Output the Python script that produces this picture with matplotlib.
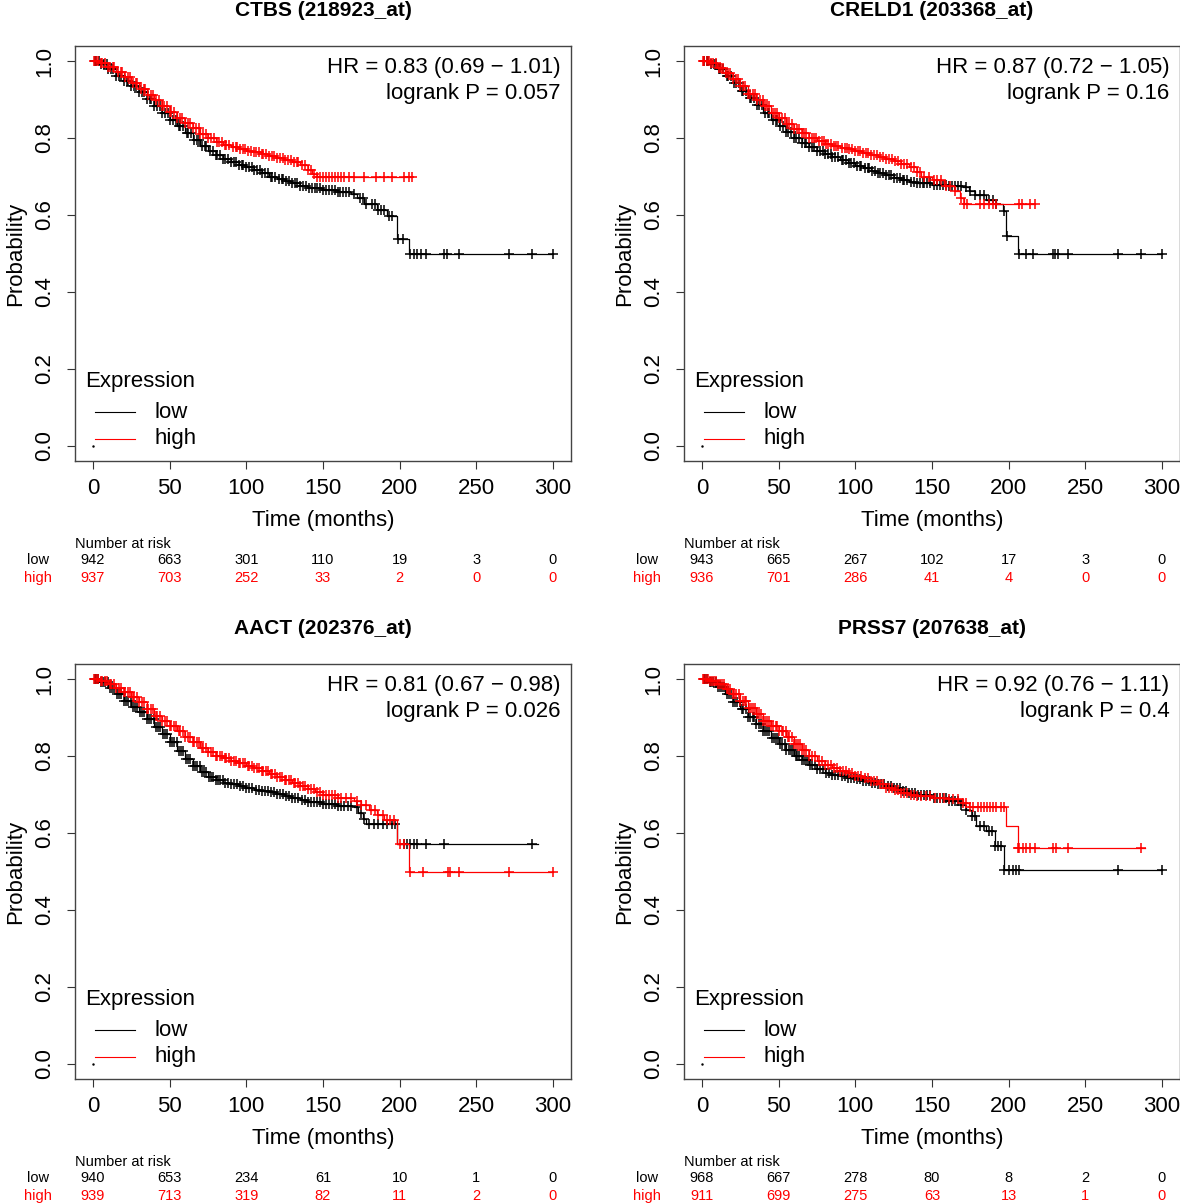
import numpy as np
import matplotlib
matplotlib.use("Agg")
import matplotlib.pyplot as plt
from matplotlib.transforms import blended_transform_factory

plt.rcParams['font.family'] = ['Liberation Sans', 'DejaVu Sans']

# ---- data ----
titles = ["CTBS (218923_at)", "CRELD1 (203368_at)", "AACT (202376_at)", "PRSS7 (207638_at)"]
hr_text = ["HR = 0.83 (0.69 \u2212 1.01)", "HR = 0.87 (0.72 \u2212 1.05)",
           "HR = 0.81 (0.67 \u2212 0.98)", "HR = 0.92 (0.76 \u2212 1.11)"]
p_text = ["logrank P = 0.057", "logrank P = 0.16", "logrank P = 0.026", "logrank P = 0.4"]

risk_times = [0, 50, 100, 150, 200, 250, 300]
ctbs_risk_low = [942, 663, 301, 110, 19, 3, 0]
ctbs_risk_high = [937, 703, 252, 33, 2, 0, 0]
creld1_risk_low = [943, 665, 267, 102, 17, 3, 0]
creld1_risk_high = [936, 701, 286, 41, 4, 0, 0]
aact_risk_low = [940, 653, 234, 61, 10, 1, 0]
aact_risk_high = [939, 713, 319, 82, 11, 2, 0]
prss7_risk_low = [968, 667, 278, 80, 8, 2, 0]
prss7_risk_high = [911, 699, 275, 63, 13, 1, 0]

# survival curves (time in months, probability), step knots
ctbs_low_t = [0, 5, 10, 15, 20, 25, 30, 35, 40, 45, 50, 55, 60, 65, 70, 75, 80, 85, 90, 95, 100,
              105, 110, 115, 120, 125, 130, 135, 140, 150, 160, 168, 172, 177, 185, 192, 198, 206, 300]
ctbs_low_s = [1.0, 0.993, 0.978, 0.962, 0.948, 0.934, 0.92, 0.902, 0.884, 0.865, 0.848, 0.83, 0.812,
              0.795, 0.778, 0.765, 0.755, 0.746, 0.738, 0.731, 0.724, 0.716, 0.708, 0.70, 0.694, 0.688,
              0.682, 0.676, 0.671, 0.666, 0.661, 0.655, 0.645, 0.628, 0.613, 0.598, 0.537, 0.498, 0.498]
ctbs_high_t = [0, 5, 10, 15, 20, 25, 30, 35, 40, 45, 50, 55, 60, 65, 70, 75, 80, 85, 90, 95, 100,
               105, 110, 115, 120, 125, 130, 135, 140, 143, 146, 208]
ctbs_high_s = [1.0, 0.995, 0.985, 0.972, 0.958, 0.943, 0.928, 0.912, 0.898, 0.883, 0.868, 0.853, 0.839,
               0.825, 0.811, 0.80, 0.79, 0.782, 0.776, 0.771, 0.767, 0.763, 0.758, 0.754, 0.749, 0.743,
               0.737, 0.731, 0.718, 0.707, 0.698, 0.698]

creld1_low_t = [0, 5, 10, 15, 20, 25, 30, 35, 40, 45, 50, 55, 60, 65, 70, 75, 80, 85, 90, 95, 100,
                105, 110, 115, 120, 125, 130, 135, 140, 150, 160, 170, 174, 178, 185, 192, 196, 198, 206, 300]
creld1_low_s = [1.0, 0.992, 0.978, 0.96, 0.942, 0.923, 0.905, 0.886, 0.866, 0.846, 0.83, 0.815, 0.801,
                0.788, 0.776, 0.767, 0.758, 0.75, 0.742, 0.734, 0.727, 0.721, 0.715, 0.708, 0.703, 0.697,
                0.692, 0.687, 0.684, 0.679, 0.675, 0.672, 0.662, 0.652, 0.64, 0.628, 0.611, 0.546, 0.498, 0.498]
creld1_high_t = [0, 5, 10, 15, 20, 25, 30, 35, 40, 45, 50, 55, 60, 65, 70, 75, 80, 85, 90, 95, 100,
                 105, 110, 115, 120, 125, 130, 135, 140, 143, 150, 158, 165, 168, 171, 217]
creld1_high_s = [1.0, 0.994, 0.983, 0.968, 0.952, 0.935, 0.915, 0.898, 0.882, 0.866, 0.851, 0.837, 0.824,
                 0.812, 0.801, 0.792, 0.785, 0.779, 0.774, 0.771, 0.767, 0.762, 0.757, 0.751, 0.745, 0.739,
                 0.732, 0.725, 0.712, 0.70, 0.69, 0.675, 0.662, 0.645, 0.628, 0.628]

aact_low_t = [0, 5, 10, 15, 20, 25, 30, 35, 40, 45, 50, 55, 60, 65, 70, 75, 80, 85, 90, 95, 100,
              105, 110, 115, 120, 125, 130, 135, 140, 150, 160, 170, 173, 176, 178, 198, 290]
aact_low_s = [1.0, 0.991, 0.977, 0.96, 0.943, 0.928, 0.913, 0.895, 0.876, 0.857, 0.836, 0.814, 0.792,
              0.773, 0.758, 0.746, 0.737, 0.731, 0.726, 0.721, 0.716, 0.712, 0.709, 0.706, 0.701, 0.696,
              0.69, 0.685, 0.681, 0.675, 0.671, 0.667, 0.652, 0.636, 0.623, 0.571, 0.571]
aact_high_t = [0, 5, 10, 15, 20, 25, 30, 35, 40, 45, 50, 55, 60, 65, 70, 75, 80, 85, 90, 95, 100,
               105, 110, 115, 120, 125, 130, 135, 140, 145, 150, 160, 170, 175, 180, 185, 190, 198, 206, 300]
aact_high_s = [1.0, 0.995, 0.987, 0.977, 0.965, 0.953, 0.94, 0.921, 0.905, 0.89, 0.877, 0.864, 0.85,
               0.836, 0.822, 0.81, 0.801, 0.794, 0.788, 0.782, 0.775, 0.768, 0.761, 0.754, 0.746, 0.738,
               0.73, 0.722, 0.714, 0.707, 0.70, 0.692, 0.682, 0.672, 0.66, 0.648, 0.635, 0.571, 0.50, 0.50]

prss7_low_t = [0, 5, 10, 15, 20, 25, 30, 35, 40, 45, 50, 55, 60, 65, 70, 75, 80, 85, 90, 95, 100,
               105, 110, 115, 120, 125, 130, 135, 140, 150, 160, 168, 172, 176, 179, 185, 191, 197, 300]
prss7_low_s = [1.0, 0.993, 0.978, 0.96, 0.941, 0.921, 0.901, 0.882, 0.864, 0.846, 0.83, 0.815, 0.801,
               0.789, 0.776, 0.765, 0.757, 0.751, 0.747, 0.743, 0.739, 0.735, 0.731, 0.728, 0.722, 0.716,
               0.71, 0.704, 0.698, 0.69, 0.683, 0.674, 0.66, 0.645, 0.619, 0.606, 0.567, 0.503, 0.503]
prss7_high_t = [0, 5, 10, 15, 20, 25, 30, 35, 40, 45, 50, 55, 60, 65, 70, 75, 80, 85, 90, 95, 100,
                105, 110, 115, 120, 125, 130, 135, 140, 150, 160, 170, 174, 198, 206, 289]
prss7_high_s = [1.0, 0.995, 0.986, 0.973, 0.96, 0.944, 0.925, 0.908, 0.892, 0.877, 0.864, 0.849, 0.832,
                0.815, 0.799, 0.787, 0.777, 0.769, 0.762, 0.756, 0.749, 0.742, 0.735, 0.726, 0.718, 0.711,
                0.705, 0.699, 0.695, 0.691, 0.688, 0.678, 0.667, 0.617, 0.561, 0.561]

# censoring times (+ marks)
ctbs_low_cens = [1, 2, 4, 5, 7, 9, 10, 12, 13, 15, 17, 18, 20, 22, 23, 25, 27, 28, 30, 32, 33, 35, 37, 38,
                 40, 42, 44, 45, 47, 49, 50, 52, 54, 56, 57, 59, 61, 62, 64, 66, 68, 69, 71, 73, 74, 76,
                 78, 80, 81, 83, 85, 86, 88, 90, 92, 93, 95, 97, 98, 100, 102, 104, 105, 107, 109, 110,
                 112, 114, 116, 117, 119, 121, 123, 124, 126, 128, 130, 132, 133, 135, 137, 139, 141, 143,
                 145, 146, 148, 150, 152, 154, 156, 158, 160, 161, 163, 165, 167, 170, 174, 176, 178, 182,
                 184, 186, 188, 190, 193, 195, 199, 202, 207, 209.5, 211.5, 214, 217, 229, 231, 239, 271,
                 286, 300]
ctbs_high_cens = [0.5, 2, 3, 5, 6, 8, 10, 11, 13, 14, 16, 18, 19, 21, 23, 24, 26, 28, 29, 31, 33, 34, 36,
                  38, 39, 41, 43, 45, 46, 48, 50, 51, 53, 55, 57, 58, 60, 62, 63, 65, 67, 69, 70, 72, 74,
                  75, 77, 79, 81, 82, 84, 86, 87, 89, 91, 93, 94, 96, 98, 99, 101, 103, 105, 106, 108, 110,
                  111, 113, 115, 117, 118, 120, 122, 124, 125, 127, 129, 131, 133, 134, 136, 138, 140, 142,
                  144, 146, 148, 150, 152, 154, 156, 158, 160, 162, 164, 167, 170, 177, 184.5, 190, 195,
                  203, 206, 208]
creld1_low_cens = [1, 3, 4, 6, 8, 9, 11, 12, 14, 16, 17, 19, 21, 22, 24, 26, 27, 29, 31, 32, 34, 36, 37,
                   39, 41, 43, 44, 46, 48, 49, 51, 53, 55, 56, 58, 60, 61, 63, 65, 67, 68, 70, 72, 73, 75,
                   77, 79, 80, 82, 84, 85, 87, 89, 91, 92, 94, 96, 97, 99, 101, 103, 104, 106, 108, 109,
                   111, 113, 115, 116, 118, 120, 122, 123, 125, 127, 129, 131, 132, 134, 136, 138, 140,
                   142, 144, 145, 147, 149, 151, 153, 155, 157, 159, 161, 163, 165, 167, 169, 172, 175,
                   178, 181, 184, 187, 190, 192, 197, 199, 207, 211.5, 216, 229, 230.5, 232, 238.5, 271,
                   286, 300]
creld1_high_cens = [0.5, 1.5, 3, 4.5, 6, 7.5, 9, 11, 12.5, 14, 15.5, 17, 18.5, 20, 22, 23.5, 25, 26.5,
                    28, 30, 31.5, 33, 34.5, 36, 38, 39.5, 41, 42.5, 44, 46, 47.5, 49, 50.5, 52, 54, 55.5,
                    57, 58.5, 60, 62, 63.5, 65, 66.5, 68, 70, 71.5, 73, 74.5, 76, 78, 79.5, 81, 82.5, 84,
                    86, 87.5, 89, 91, 93, 94.5, 96, 98, 100, 101.5, 103, 105, 107, 108.5, 110, 112, 114,
                    116, 118, 120, 122, 124, 126, 128, 130, 132, 134, 136, 138, 140, 142, 145, 148, 151,
                    153, 156, 159, 162, 165, 169, 171, 173, 181, 184, 187, 190, 192, 207, 209, 214, 217]
aact_low_cens = [1, 2, 3.5, 5, 6.5, 8, 9.5, 11, 12.5, 14, 15.5, 17, 18.5, 20, 21.5, 23, 24.5, 26, 27.5,
                 29, 30.5, 32, 33.5, 35, 36.5, 38, 39.5, 41, 42.5, 44, 45.5, 47, 48.5, 50, 51.5, 53, 54.5,
                 56, 57.5, 59, 60.5, 62, 63.5, 65, 66.5, 68, 69.5, 71, 72.5, 74, 75.5, 77, 78.5, 80, 81.5,
                 83, 84.5, 86, 88, 90, 92, 94, 96, 98, 100, 102, 104, 106, 108, 110, 112, 114, 116, 118,
                 120, 122, 124, 126, 128, 130, 132, 134, 136, 138, 140, 142, 144, 146, 148, 150, 152,
                 154, 156, 158, 160, 162, 164, 166, 168, 172, 175, 177, 180, 183, 186, 189, 192, 195,
                 197, 203, 205, 207, 209.5, 211.5, 217, 229, 286]
aact_high_cens = [0.5, 2, 3, 5, 6, 8, 9, 11, 12, 14, 15, 17, 18, 20, 21, 23, 24, 26, 27, 29, 30, 32, 33,
                  35, 36, 38, 39, 41, 42, 44, 45, 47, 48, 50, 51, 53, 54, 56, 57, 59, 60, 62, 63, 65, 66,
                  68, 69, 71, 72, 74, 75, 77, 78, 80, 81, 83, 84, 86, 87, 89, 90, 92, 93, 95, 96, 98,
                  99, 101, 102, 104, 105, 107, 108, 110, 111, 113, 114, 116, 117, 119, 120, 122, 123,
                  125, 126, 128, 129, 131, 132, 134, 135, 137, 138, 140, 142, 144, 146, 148, 150, 152,
                  154, 156, 158, 160, 162, 165, 168, 172, 175, 178, 181, 184, 186, 189, 192, 194, 196,
                  200, 203, 207, 215, 231.5, 233, 239, 271, 300]
prss7_low_cens = [1, 2, 3.5, 5, 6, 7.5, 9, 10.5, 12, 13, 14.5, 16, 17.5, 19, 20, 21.5, 23, 24.5, 26, 27,
                  28.5, 30, 31.5, 33, 34, 35.5, 37, 38.5, 40, 41, 42.5, 44, 45.5, 47, 48, 49.5, 51, 52.5,
                  54, 55, 56.5, 58, 59.5, 61, 62, 63.5, 65, 66.5, 68, 69, 70.5, 72, 73.5, 75, 77, 79, 81,
                  83, 85, 87, 89, 91, 93, 95, 97, 99, 101, 103, 105, 107, 109, 111, 113, 115, 117, 119,
                  121, 123, 125, 127, 129, 131, 133, 135, 137, 139, 141, 143, 145, 147, 149, 151, 153,
                  155, 157, 159, 161, 163, 165, 167, 169, 172, 176, 178, 181, 184, 187, 189, 191, 193,
                  195, 197, 200.5, 203, 205, 207, 271, 300]
prss7_high_cens = [0.5, 1.5, 2.5, 4, 5, 6.5, 8, 9, 10.5, 12, 13, 14.5, 16, 17, 18.5, 20, 21, 22.5, 24, 25,
                   26.5, 28, 29, 30.5, 32, 33, 34.5, 36, 37, 38.5, 40, 41, 42.5, 44, 45, 46.5, 48, 49,
                   50.5, 52, 53, 54.5, 56, 57, 58.5, 60, 61, 62.5, 64, 65, 66.5, 68, 70, 72, 74, 76, 78,
                   80, 82, 84, 86, 88, 90, 92, 94, 96, 98, 100, 102, 104, 106, 108, 110, 112, 114, 116,
                   118, 120, 122, 124, 126, 128, 130, 132, 134, 136, 138, 140, 143, 146, 149, 152, 155,
                   158, 161, 164, 167, 170, 172, 175, 177, 180, 182, 184, 186, 188, 190, 192, 195, 197,
                   206, 207, 209.5, 211.5, 214, 217, 229, 231, 239, 286]

panels = [
    (ctbs_low_t, ctbs_low_s, ctbs_low_cens, ctbs_high_t, ctbs_high_s, ctbs_high_cens, ctbs_risk_low, ctbs_risk_high),
    (creld1_low_t, creld1_low_s, creld1_low_cens, creld1_high_t, creld1_high_s, creld1_high_cens, creld1_risk_low, creld1_risk_high),
    (aact_low_t, aact_low_s, aact_low_cens, aact_high_t, aact_high_s, aact_high_cens, aact_risk_low, aact_risk_high),
    (prss7_low_t, prss7_low_s, prss7_low_cens, prss7_high_t, prss7_high_s, prss7_high_cens, prss7_risk_low, prss7_risk_high),
]

W, H = 1180, 1204
fig = plt.figure(figsize=(W / 100, H / 100), dpi=100)

# axes boxes in pixels: (left, top) of each panel
boxes = [(74.6, 45.6), (683.6, 45.6), (74.6, 663.6), (683.6, 663.6)]
bw, bh = 496.8, 415.8

def draw_km(ax, t, s, cens, col):
    t = np.asarray(t, float)
    s = np.asarray(s, float)
    ax.step(t, s, where='post', color=col, lw=0.9)
    c = np.asarray(cens, float)
    idx = np.searchsorted(t, c, side='right') - 1
    ax.plot(c, s[idx], ls='none', marker='+', ms=7.5, mew=1.1, color=col)

for i, (lt, ls_, lc, ht, hs, hc, rl, rh) in enumerate(panels):
    x0, y0 = boxes[i]
    ax = fig.add_axes([x0 / W, 1 - (y0 + bh) / H, bw / W, bh / H])
    draw_km(ax, lt, ls_, lc, 'black')
    draw_km(ax, ht, hs, hc, 'red')
    ax.plot([0], [0], marker='.', ms=1.5, color='black')

    ax.set_xlim(-12, 312)
    ax.set_ylim(-0.04, 1.04)
    ax.set_xticks(range(0, 301, 50))
    ax.set_yticks([0, 0.2, 0.4, 0.6, 0.8, 1.0])
    ax.set_yticklabels(['0.0', '0.2', '0.4', '0.6', '0.8', '1.0'], rotation=90, va='center')
    ax.tick_params(labelsize=16, length=6, width=0.8, color='#333333', pad=6)
    ax.tick_params(axis='y', pad=8)
    for sp in ax.spines.values():
        sp.set_color('#444444')
        sp.set_linewidth(1.0)
    ax.set_xlabel('Time (months)', fontsize=16, labelpad=8)
    ax.set_ylabel('Probability', fontsize=16, labelpad=6)
    ax.text(0.5, 1 + 35 / bh, titles[i], transform=ax.transAxes, ha='center', va='center',
            fontsize=15, fontweight='bold')

    ax.text(0.978, 0.947, hr_text[i], transform=ax.transAxes, ha='right', va='center', fontsize=16)
    ax.text(0.978, 0.885, p_text[i], transform=ax.transAxes, ha='right', va='center', fontsize=16)

    # legend
    ax.text(0.021, 0.193, 'Expression', transform=ax.transAxes, ha='left', va='center', fontsize=16)
    ax.plot([0.041, 0.122], [0.118, 0.118], transform=ax.transAxes, color='black', lw=0.8)
    ax.plot([0.041, 0.122], [0.055, 0.055], transform=ax.transAxes, color='red', lw=0.8)
    ax.text(0.16, 0.118, 'low', transform=ax.transAxes, ha='left', va='center', fontsize=16)
    ax.text(0.16, 0.055, 'high', transform=ax.transAxes, ha='left', va='center', fontsize=16)

    # number at risk table
    tr = blended_transform_factory(ax.transData, ax.transAxes)
    tra = ax.transAxes
    ax.text(0.0, -83 / bh, 'Number at risk', transform=tra, ha='left', va='center', fontsize=10.5,
            clip_on=False)
    ax.text(-25 / bw, -99 / bh, 'low', transform=tra, ha='right', va='center', fontsize=10.5)
    ax.text(-23 / bw, -117 / bh, 'high', transform=tra, ha='right', va='center', fontsize=10.5,
            color='red')
    for tt, a, b in zip(risk_times, rl, rh):
        ax.text(tt, -99 / bh, str(a), transform=tr, ha='center', va='center', fontsize=10.5)
        ax.text(tt, -117 / bh, str(b), transform=tr, ha='center', va='center', fontsize=10.5,
                color='red')

fig.savefig('out.png', dpi=100)
